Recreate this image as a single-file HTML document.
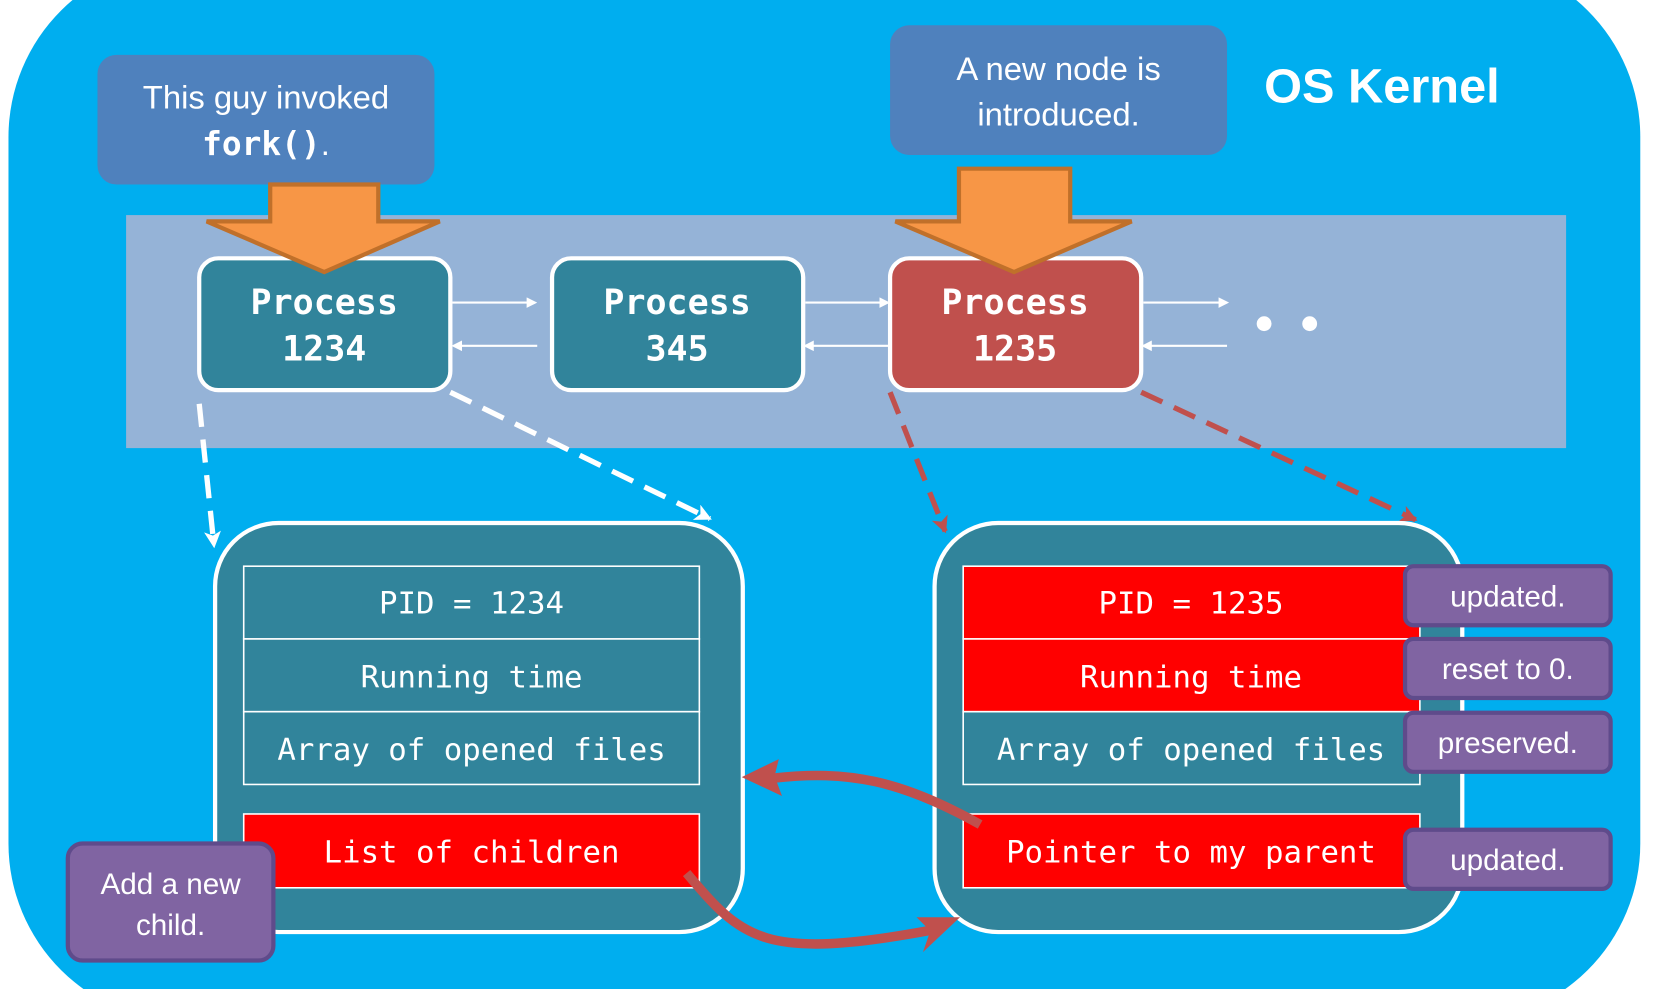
<!DOCTYPE html>
<html><head><meta charset="utf-8"><style>
html,body{margin:0;padding:0;background:#fff;width:1653px;height:989px;overflow:hidden}
svg{display:block}
.s{font-family:"Liberation Sans","DejaVu Sans",sans-serif;fill:#fff}
.m{font-family:"DejaVu Sans Mono","Liberation Mono",monospace;fill:#fff}
</style></head><body>
<svg width="1653" height="989" viewBox="0 0 1560 938" preserveAspectRatio="none" xmlns="http://www.w3.org/2000/svg">
<defs>
<marker id="aw" markerWidth="10" markerHeight="10" refX="8" refY="5" orient="auto" markerUnits="userSpaceOnUse"><path d="M0,0 L10,5 L0,10 Z" fill="#fff"/></marker>
<marker id="awd" markerWidth="16" markerHeight="16" refX="14" refY="8" orient="auto" markerUnits="userSpaceOnUse"><path d="M0,0 L16,8 L0,16 L4,8 Z" fill="#fff"/></marker>
<marker id="ard" markerWidth="16" markerHeight="16" refX="14" refY="8" orient="auto" markerUnits="userSpaceOnUse"><path d="M0,0 L16,8 L0,16 L4,8 Z" fill="#C0504D"/></marker>
</defs>
<rect x="8" y="-40" width="1540" height="1010" rx="170" fill="#00AEEF"/>
<rect x="119" y="204" width="1359" height="221" fill="#95B3D7"/>
<rect x="92" y="52" width="318" height="123" rx="18" fill="#4F81BD"/>
<text class="s" x="251" y="103" font-size="31" text-anchor="middle">This guy invoked</text>
<text x="251" y="147" font-size="31" text-anchor="middle" class="s"><tspan class="m" font-weight="bold">fork()</tspan>.</text>
<rect x="840" y="24" width="318" height="123" rx="18" fill="#4F81BD"/>
<text class="s" x="999" y="76" font-size="31" text-anchor="middle">A new node is</text>
<text class="s" x="999" y="119" font-size="31" text-anchor="middle">introduced.</text>
<text class="s" x="1193" y="97" font-size="46" font-weight="bold">OS Kernel</text>
<g stroke="#fff" stroke-width="2">
<line x1="427" y1="287" x2="505" y2="287" marker-end="url(#aw)"/>
<line x1="507" y1="328" x2="428" y2="328" marker-end="url(#aw)"/>
<line x1="760" y1="287" x2="838" y2="287" marker-end="url(#aw)"/>
<line x1="840" y1="328" x2="760" y2="328" marker-end="url(#aw)"/>
<line x1="1079" y1="287" x2="1158" y2="287" marker-end="url(#aw)"/>
<line x1="1158" y1="328" x2="1079" y2="328" marker-end="url(#aw)"/>
</g>
<circle cx="1193" cy="307" r="7" fill="#fff"/><circle cx="1236" cy="307" r="7" fill="#fff"/>
<rect x="188" y="245" width="237" height="125" rx="18" fill="#31849B" stroke="#fff" stroke-width="4"/>
<rect x="521" y="245" width="237" height="125" rx="18" fill="#31849B" stroke="#fff" stroke-width="4"/>
<rect x="840" y="245" width="237" height="125" rx="18" fill="#C0504D" stroke="#fff" stroke-width="4"/>
<path d="M255,175 H357 V210 H415 L306,258 L195,210 H255 Z" fill="#F79646" stroke="#C0702A" stroke-width="4"/>
<path d="M905,160 H1010 V210 H1068 L957,258 L845,210 H905 Z" fill="#F79646" stroke="#C0702A" stroke-width="4"/>
<g class="m" font-size="33" font-weight="bold" text-anchor="middle">
<text x="306" y="298">Process</text><text x="306" y="342">1234</text>
<text x="639" y="298">Process</text><text x="639" y="342">345</text>
<text x="958" y="298">Process</text><text x="958" y="342">1235</text>
</g>
<g fill="none" stroke-width="5" stroke-dasharray="22,12">
<line x1="188" y1="383" x2="202" y2="518" stroke="#fff" marker-end="url(#awd)"/>
<line x1="425" y1="372" x2="670" y2="492" stroke="#fff" marker-end="url(#awd)"/>
<line x1="840" y1="372" x2="892" y2="504" stroke="#C0504D" marker-end="url(#ard)"/>
<line x1="1077" y1="372" x2="1336" y2="493" stroke="#C0504D" marker-end="url(#ard)"/>
</g>
<rect x="203" y="496" width="498" height="388" rx="60" fill="#31849B" stroke="#fff" stroke-width="4"/>
<rect x="882" y="496" width="498" height="388" rx="60" fill="#31849B" stroke="#fff" stroke-width="4"/>
<g stroke="#fff" stroke-width="1.5">
<rect x="230" y="537" width="430" height="69" fill="#31849B"/>
<rect x="230" y="606" width="430" height="69" fill="#31849B"/>
<rect x="230" y="675" width="430" height="69" fill="#31849B"/>
<rect x="230" y="772" width="430" height="70" fill="#FF0000"/>
<rect x="909" y="537" width="431" height="69" fill="#FF0000"/>
<rect x="909" y="606" width="431" height="69" fill="#FF0000"/>
<rect x="909" y="675" width="431" height="69" fill="#31849B"/>
<rect x="909" y="772" width="431" height="70" fill="#FF0000"/>
</g>
<g class="m" font-size="29" text-anchor="middle">
<text x="445" y="582">PID = 1234</text>
<text x="445" y="652">Running time</text>
<text x="445" y="721">Array of opened files</text>
<text x="445" y="818">List of children</text>
<text x="1124" y="582">PID = 1235</text>
<text x="1124" y="652">Running time</text>
<text x="1124" y="721">Array of opened files</text>
<text x="1124" y="818">Pointer to my parent</text>
</g>
<g fill="#8064A2" stroke="#5F4B8B" stroke-width="4">
<rect x="1326" y="537" width="194" height="56" rx="8"/>
<rect x="1326" y="606" width="194" height="56" rx="8"/>
<rect x="1326" y="676" width="194" height="56" rx="8"/>
<rect x="1326" y="787" width="194" height="56" rx="8"/>
<rect x="64" y="800" width="194" height="111" rx="14"/>
</g>
<g class="s" font-size="28" text-anchor="middle">
<text x="1423" y="575">updated.</text>
<text x="1423" y="644">reset to 0.</text>
<text x="1423" y="714">preserved.</text>
<text x="1423" y="825">updated.</text>
<text x="161" y="848">Add a new</text>
<text x="161" y="887">child.</text>
</g>
<g fill="none" stroke="#C0504D" stroke-width="9">
<path d="M925,782 C850,740 800,730 730,738"/>
<path d="M648,828 C700,890 720,912 880,882"/>
</g>
<path d="M700,737 L735,720 L731,736 L738,755 Z" fill="#C0504D"/>
<path d="M906,870 L865,870 L878,883 L871,903 Z" fill="#C0504D"/>
</svg>
</body></html>
